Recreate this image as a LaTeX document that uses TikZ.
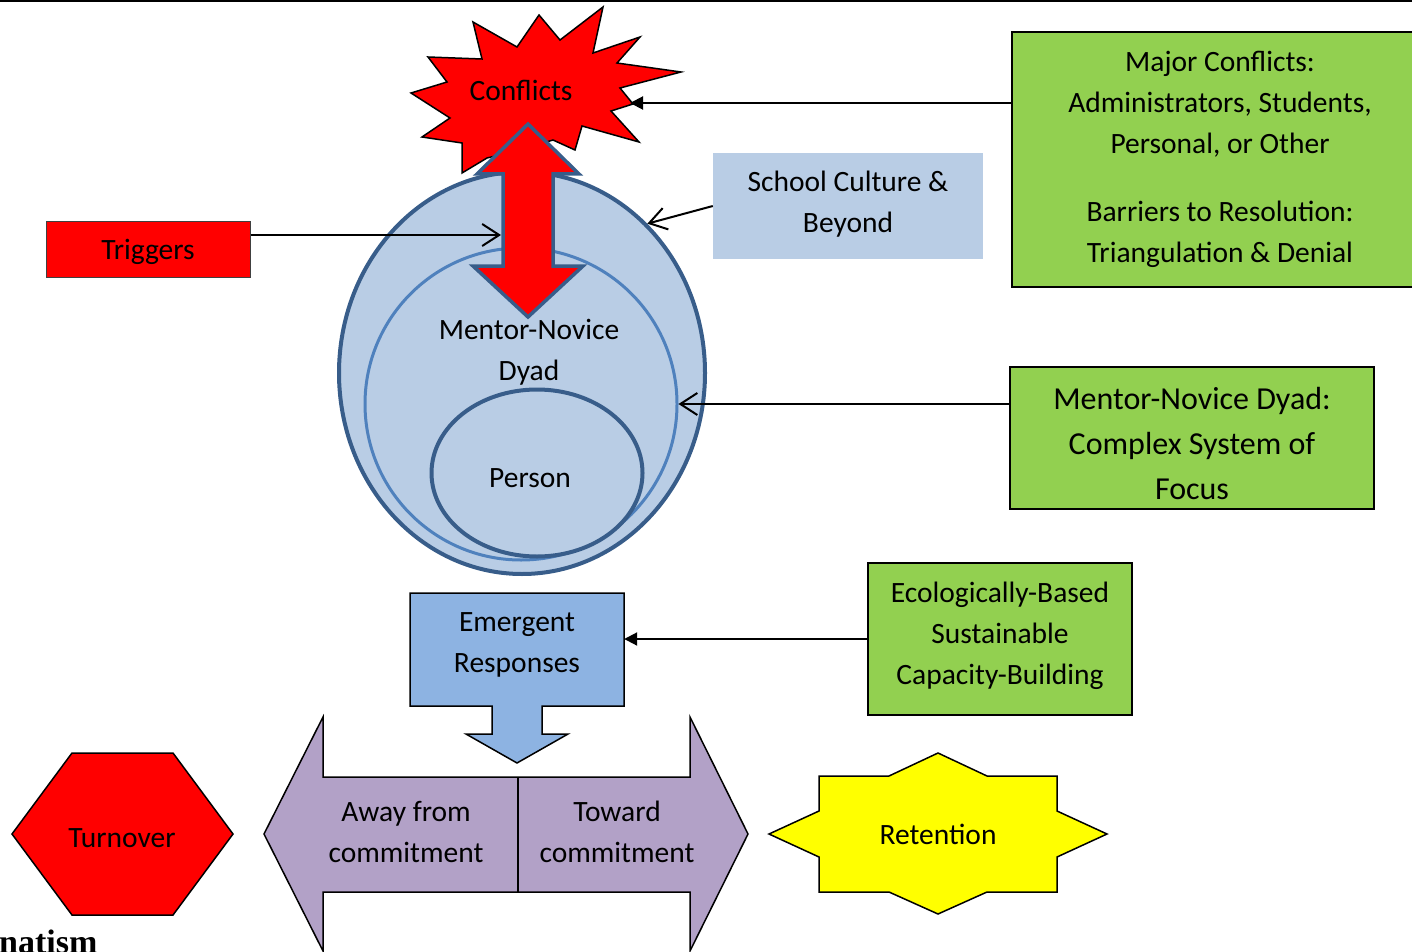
\documentclass[tikz,border=0pt]{standalone}
\usepackage{fontspec}
\setmainfont{Carlito}
\newfontfamily\cutserif{Liberation Serif}
\usetikzlibrary{arrows.meta,positioning,shapes.geometric,calc}
\definecolor{cfred}{HTML}{FF0000}
\definecolor{cfpale}{HTML}{B9CDE5}
\definecolor{cfnavy}{HTML}{385D8A}
\definecolor{cfblue}{HTML}{4F81BD}
\definecolor{cfsky}{HTML}{8DB3E2}
\definecolor{cfgreen}{HTML}{92D050}
\definecolor{cflilac}{HTML}{B2A1C7}
\definecolor{cfyellow}{HTML}{FFFF00}

\begin{document}
\begin{tikzpicture}[x=1pt,y=-1pt,
  txt/.style={font=\fontsize{29.5}{41}\selectfont,align=center,inner sep=0pt},
  bigtxt/.style={font=\fontsize{32}{45}\selectfont,align=center,inner sep=0pt},
  greenbox/.style={fill=cfgreen,draw=black,line width=2pt},
  ring/.style={fill=cfpale,line width=4pt,inner sep=0pt},
  barb/.style={-{Straight Barb[length=17pt,width=22pt]},line width=2pt},
  filltip/.style={-{Triangle[length=13pt,width=13pt]},line width=2pt}]

  \useasboundingbox (0,0) rectangle (1412,952);

  % ---- Page rule at the top ------------------------------------
  \fill[black] (0,0) rectangle (1412,2.5);

  % ---- Nested circles ------------------------------------------
  \node[ring,ellipse,draw=cfnavy,minimum width=366pt,minimum height=402pt]
    (outer) at (522,373) {};
  \node[ring,circle,draw=cfblue,line width=3pt,minimum size=312pt]
    (middle) at (521,404) {};
  \node[ring,ellipse,draw=cfnavy,minimum width=211pt,minimum height=167pt]
    (personring) at (537,473) {};
  \node[txt] (dyad)   at (529,352) {Mentor-Novice\\Dyad};
  \node[txt] (person) at (530,478) {Person};

  % ---- Conflicts burst -----------------------------------------
  \draw[fill=cfred,draw=black,line width=1.5pt,line join=miter]
    (411,93) -- (447,82) -- (428,57) -- (482,59) -- (473,22) -- (517,47)
    -- (539,15) -- (560,40) -- (603,7) -- (593,53) -- (640,37) -- (617,63)
    -- (681,72) -- (620,88) -- (633,104) -- (611,111) -- (639,142)
    -- (582,126) -- (575,150) -- (553,140) -- (520,150) -- (487,158)
    -- (462,173) -- (462,143) -- (422,137) -- (450,118) -- cycle;
  \node[txt] (conflicts) at (521,90) {Conflicts};
  \coordinate (burst) at (630,103);

  % ---- Up-down arrow -------------------------------------------
  \draw[fill=cfred,draw=cfnavy,line width=3.5pt,line join=miter]
    (528,124) -- (579,174) -- (553,174) -- (553,266) -- (583,266)
    -- (528,317) -- (473,266) -- (503,266) -- (503,174) -- (477,174) -- cycle;

  % ---- Triggers ------------------------------------------------
  \node[txt,fill=cfred,draw=black!75,line width=1pt,text depth=0pt,
    minimum width=204pt,minimum height=56pt] (triggers) at (148,249) {Triggers};
  \coordinate (trigtip) at (501,235);
  \draw[barb] (triggers.east |- trigtip) -- (trigtip);

  % ---- School culture ------------------------------------------
  \node[fill=cfpale,minimum width=270pt,minimum height=106pt] (culture) at (848,206) {};
  \node[txt] (culturetext) at (848,204) {School Culture \&\\Beyond};
  \draw[barb] (culture.west) -- (outer.50);

  % ---- Green boxes on the right --------------------------------
  \node[txt,greenbox,minimum width=416pt,minimum height=255pt]
    (major) at (1220,159.5)
    {Major Conflicts:\\Administrators, Students,\\Personal, or Other\\[27pt]
     Barriers to Resolution:\\Triangulation \& Denial};
  \draw[filltip] (major.west |- burst) -- (burst);

  \node[greenbox,minimum width=364pt,minimum height=142pt] (dyadbox) at (1192,438) {};
  \node[bigtxt] (dyadtext) at (1192,444) {Mentor-Novice Dyad:\\Complex System of\\Focus};
  \draw[barb] (dyadbox.west |- middle.east) -- (middle.east);

  \node[greenbox,minimum width=264pt,minimum height=152pt] (ecobox) at (1000,639) {};
  \node[txt] (ecotext) at (1000,636) {Ecologically-Based\\Sustainable\\Capacity-Building};

  % ---- Emergent responses callout ------------------------------
  \draw[fill=cfsky,draw=black,line width=1.5pt,line join=miter]
    (410,593) -- (624,593) -- (624,706) -- (542,706) -- (542,734)
    -- (568,734) -- (517,763) -- (466,734) -- (492,734) -- (492,706)
    -- (410,706) -- cycle;
  \node[txt,minimum width=214pt] (emergent) at (517,645) {Emergent\\Responses};
  \draw[filltip] (ecobox.west) -- (emergent.east |- ecobox.west);

  % ---- Commitment arrows ---------------------------------------
  \draw[fill=cflilac,draw=black,line width=1.5pt,line join=miter]
    (323,717) -- (323,777) -- (690,777) -- (690,717) -- (748,834)
    -- (690,951) -- (690,892) -- (323,892) -- (323,951) -- (264,834) -- cycle;
  \draw[line width=1.5pt] (518,777) -- (518,892);
  \node[txt] (away)   at (406,832) {Away from\\commitment};
  \node[txt] (toward) at (617,832) {Toward\\commitment};

  % ---- Outcomes ------------------------------------------------
  \draw[fill=cfred,draw=black,line width=1.5pt,line join=miter]
    (72,753) -- (173,753) -- (233,834) -- (173,915) -- (72,915) -- (12,834) -- cycle;
  \node[txt] (turnover) at (122,838) {Turnover};

  \draw[fill=cfyellow,draw=black,line width=1.5pt,line join=miter]
    (938,753) -- (987,776) -- (1057,776) -- (1057,811) -- (1107,834)
    -- (1057,857) -- (1057,892) -- (987,892) -- (938,914) -- (889,892)
    -- (819,892) -- (819,857) -- (769,834) -- (819,811) -- (819,776)
    -- (889,776) -- cycle;
  \node[txt] (retention) at (938,834) {Retention};

  % ---- Cut-off heading below -----------------------------------
  \node[anchor=base west,inner sep=0pt,
    font=\cutserif\bfseries\fontsize{34}{40}\selectfont] (heading) at (-1,953) {natism};

\end{tikzpicture}
\end{document}
